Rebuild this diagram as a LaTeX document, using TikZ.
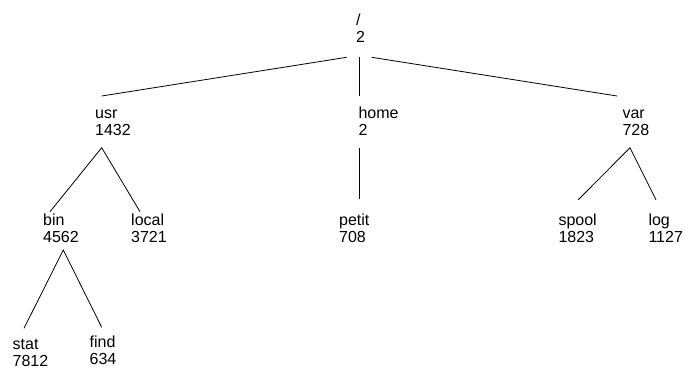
\documentclass[tikz,border=0pt]{standalone}
\usepackage{fontspec}
\setmainfont{Liberation Sans}
\begin{document}
\begin{tikzpicture}
[ x=1pt, y=-1pt
, folder/.style={anchor=base west, align=left, inner sep=0pt, font=\fontsize{16}{17}\selectfont}
, link/.style={line width=0.8pt}
]
\useasboundingbox (0,0) rectangle (696,367);
% Top:
\node (root) [folder] at (356,42) {/\\2};
% Second row:
\node (usr) [folder] at (95,135) {usr\\1432};
\node (home) [folder] at (358.3,135) {home\\2};
\node (var) [folder] at (622.3,135) {var\\728};
% Third row:
\node (bin) [folder] at (43,242.3) {bin\\4562};
\node (local) [folder] at (131,242.3) {local\\3721};
\node (petit) [folder] at (339,242.3) {petit\\708};
\node (spool) [folder] at (558.3,242.3) {spool\\1823};
\node (log) [folder] at (648.3,242.3) {log\\1127};
% Fourth row:
\node (stat) [folder] at (12.5,366) {stat\\7812};
\node (find) [folder] at (89.5,364) {find\\634};
\draw [link] ([shift={(-9.3,15.3)}]root.base west) -- ([shift={(6.7,-39)}]usr.base west);
\draw [link] ([shift={(3.3,15.3)}]root.base west) -- ([shift={(1,-39)}]home.base west);
\draw [link] ([shift={(15.7,15.3)}]root.base west) -- ([shift={(-5.3,-39)}]var.base west);
\draw [link] ([shift={(7,-30.6)}]bin.base west) -- ([shift={(6.7,12.7)}]usr.base west) -- ([shift={(9,-30.6)}]local.base west);
\draw [link] ([shift={(1,12.7)}]home.base west) -- ([shift={(20.3,-43)}]petit.base west);
\draw [link] ([shift={(20,-42.6)}]spool.base west) -- ([shift={(7.7,12.7)}]var.base west) -- ([shift={(7.7,-42.6)}]log.base west);
\draw [link] ([shift={(11.5,-37.7)}]stat.base west) -- ([shift={(20.3,7.7)}]bin.base west) -- ([shift={(12.2,-36.7)}]find.base west);
\end{tikzpicture}
\end{document}
